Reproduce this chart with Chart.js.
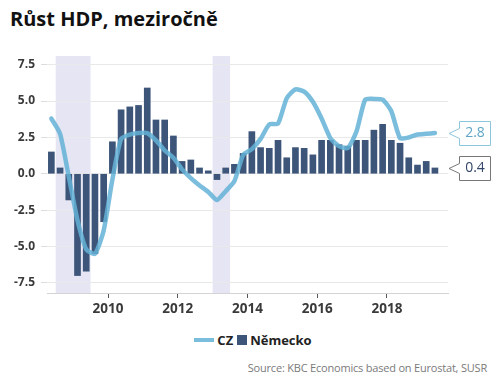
<!DOCTYPE html>
<html>
<head>
<meta charset="utf-8">
<script src="https://cdn.jsdelivr.net/npm/chart.js@4.4.0/dist/chart.umd.min.js"></script>
<style>
  body { margin: 0; background: #fff; font-family: 'Open Sans', sans-serif; }
  #wrap { position: relative; width: 500px; height: 386px; overflow: hidden; }
  #title { position: absolute; left: 10px; top: 7px; font-size: 20px; font-weight: 700; line-height: 24px; color: #111; }
  #chartBox { position: absolute; left: 0; top: 0; width: 500px; height: 330px; }
  #legend { position: absolute; left: 0; top: 331px; width: 506px; display: flex; justify-content: center; align-items: center;
            font-size: 13px; font-weight: 700; color: #222; line-height: 18px; }
  #legend .line { display: inline-block; width: 20px; height: 4px; margin-right: 3px; }
  #legend .box { display: inline-block; width: 10px; height: 10px; margin: 0 3px 0 4px; }
  #source { position: absolute; right: 13px; top: 359px; font-size: 11px; letter-spacing: -0.2px; color: #7a7a7a; line-height: 18px; }
</style>
</head>
<body>
<div id="wrap">
  <div id="title">Růst HDP, meziročně</div>
  <div id="chartBox"><canvas id="gdpChart"></canvas></div>
  <div id="legend"></div>
  <div id="source">Source: KBC Economics based on Eurostat, SUSR</div>
</div>
<script>
// quarterly data, 2008Q2 - 2019Q2
const quarters = [
    '2008Q2', '2008Q3', '2008Q4',
    '2009Q1', '2009Q2', '2009Q3', '2009Q4',
    '2010Q1', '2010Q2', '2010Q3', '2010Q4',
    '2011Q1', '2011Q2', '2011Q3', '2011Q4',
    '2012Q1', '2012Q2', '2012Q3', '2012Q4',
    '2013Q1', '2013Q2', '2013Q3', '2013Q4',
    '2014Q1', '2014Q2', '2014Q3', '2014Q4',
    '2015Q1', '2015Q2', '2015Q3', '2015Q4',
    '2016Q1', '2016Q2', '2016Q3', '2016Q4',
    '2017Q1', '2017Q2', '2017Q3', '2017Q4',
    '2018Q1', '2018Q2', '2018Q3', '2018Q4',
    '2019Q1', '2019Q2'
];

const czGrowth = [
    3.8, 2.75, -0.2,
    -3.2, -5.2, -5.5, -3.9,
    -0.4, 2.4, 2.7, 2.8,
    2.8, 2.3, 1.6, 1.1,
    0.3, -0.3, -0.8, -1.25,
    -1.8, -1.2, -0.5, 1.3,
    1.7, 2.4, 3.4, 3.45,
    5.2, 5.8, 5.65, 4.95,
    3.8, 2.45, 1.9, 1.77,
    2.9, 5.1, 5.15, 5.1,
    4.3, 2.45, 2.5, 2.7,
    2.75, 2.8
];

const deGrowth = [
    1.5, 0.4, -1.8,
    -7.0, -6.7, -5.5, -3.3,
    2.2, 4.4, 4.6, 4.7,
    5.9, 3.7, 3.7, 2.6,
    0.85, 0.95, 0.4, 0.2,
    -0.4, 0.4, 0.65, 1.4,
    2.9, 1.8, 1.75, 2.3,
    1.1, 1.8, 1.75, 1.3,
    2.3, 2.3, 2.0, 1.9,
    2.3, 2.3, 3.0, 3.4,
    2.3, 2.1, 1.1, 0.6,
    0.85, 0.4
];

const seriesNames = ['CZ', 'Německo'];
const xTicks = [2010, 2012, 2014, 2016, 2018];
const yTicks = [-7.5, -5, -2.5, 0, 2.5, 5, 7.5];

// shaded periods (fractional years)
const bandStart = [2008.5, 2013.0];
const bandEnd = [2009.5, 2013.5];

const CZ_COLOR = 'rgba(100, 178, 214, 0.85)';
const DE_COLOR = '#3c5579';

// quarter label -> middle of that quarter on a year axis
function quarterToX(q) {
    const year = parseInt(q.slice(0, 4), 10);
    const n = parseInt(q.slice(5), 10);
    return year + (n - 0.5) / 4;
}

const czPoints = quarters.map((q, i) => ({ x: quarterToX(q), y: czGrowth[i] }));
const dePoints = quarters.map((q, i) => ({ x: quarterToX(q), y: deGrowth[i] }));

const bandPlugin = {
    id: 'bands',
    beforeDraw(chart) {
        const { ctx, chartArea, scales } = chart;
        ctx.save();
        ctx.fillStyle = '#e5e5f4';
        bandStart.forEach((s, i) => {
            const x0 = scales.x.getPixelForValue(s);
            const x1 = scales.x.getPixelForValue(bandEnd[i]);
            ctx.fillRect(x0, chartArea.top, x1 - x0, chartArea.bottom - chartArea.top);
        });
        ctx.restore();
    }
};

// boxes with the last value, right of the plot
const calloutPlugin = {
    id: 'callouts',
    afterDraw(chart) {
        const { ctx, chartArea, scales } = chart;
        ctx.save();
        chart.data.datasets.forEach(ds => {
            const last = ds.data[ds.data.length - 1];
            const y = Math.round(scales.y.getPixelForValue(last.y)) + 0.5;
            const tip = chartArea.right + 1;
            const left = tip + 10.5;
            const right = left + 31;
            const h = 12;
            ctx.beginPath();
            ctx.moveTo(left, y - h);
            ctx.lineTo(right, y - h);
            ctx.lineTo(right, y + h);
            ctx.lineTo(left, y + h);
            ctx.lineTo(left, y + 5);
            ctx.lineTo(tip, y);
            ctx.lineTo(left, y - 5);
            ctx.closePath();
            ctx.fillStyle = '#fff';
            ctx.fill();
            ctx.lineWidth = 1;
            ctx.strokeStyle = ds.calloutBorder;
            ctx.stroke();
            ctx.fillStyle = ds.calloutText;
            ctx.font = "14px 'Open Sans'";
            ctx.textAlign = 'center';
            ctx.textBaseline = 'middle';
            ctx.fillText(last.y.toFixed(1), (left + right) / 2, y);
        });
        ctx.restore();
    }
};

const ctx = document.getElementById('gdpChart').getContext('2d');

new Chart(ctx, {
    type: 'bar',
    data: {
        datasets: [{
            type: 'line',
            label: seriesNames[0],
            data: czPoints,
            borderColor: CZ_COLOR,
            borderWidth: 4.5,
            pointRadius: 0,
            tension: 0.2,
            borderJoinStyle: 'round',
            borderCapStyle: 'round',
            order: 0,
            calloutBorder: '#8cc6dc',
            calloutText: '#5fa6c6'
        }, {
            label: seriesNames[1],
            data: dePoints,
            backgroundColor: DE_COLOR,
            barThickness: 6,
            order: 1,
            calloutBorder: '#777',
            calloutText: '#34466a'
        }]
    },
    options: {
        responsive: true,
        maintainAspectRatio: false,
        animation: false,
        layout: { padding: { top: 56, right: 52, left: 0, bottom: 0 } },
        plugins: {
            legend: { display: false },
            tooltip: { enabled: false }
        },
        scales: {
            x: {
                type: 'linear',
                min: 2008.25,
                max: 2019.75,
                offset: false,
                afterFit: s => { s.height = 37; },
                afterBuildTicks: s => { s.ticks = xTicks.map(v => ({ value: v })); },
                grid: {
                    offset: false,
                    drawOnChartArea: false,
                    drawTicks: true,
                    tickLength: 5,
                    tickColor: '#555'
                },
                border: { display: true, color: '#d4d4d4' },
                ticks: {
                    padding: 3,
                    color: '#3a3a3a',
                    font: { family: "'Open Sans'", size: 13.5, weight: 'bold' },
                    callback: v => String(v)
                }
            },
            y: {
                min: -8.2,
                max: 8.1,
                afterFit: s => { s.width = 47; },
                afterBuildTicks: s => { s.ticks = yTicks.map(v => ({ value: v })); },
                grid: {
                    color: '#e9e9e9',
                    tickColor: '#dcdcdc',
                    tickLength: 6
                },
                border: { display: false },
                ticks: {
                    padding: 6,
                    color: '#3a3a3a',
                    font: { family: "'Open Sans'", size: 12, weight: 'bold' },
                    callback: v => v.toFixed(1)
                }
            }
        }
    },
    plugins: [bandPlugin, calloutPlugin]
});

// legend below the chart
document.getElementById('legend').innerHTML =
    '<span class="line" style="background:' + CZ_COLOR + '"></span>' + seriesNames[0] +
    '<span class="box" style="background:' + DE_COLOR + '"></span>' + seriesNames[1];
</script>
</body>
</html>
